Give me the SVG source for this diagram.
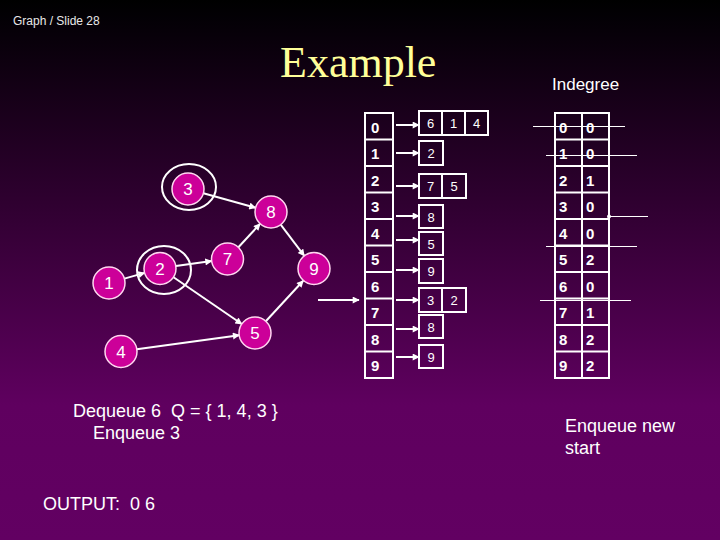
<svg xmlns="http://www.w3.org/2000/svg" width="720" height="540" viewBox="0 0 720 540">
<defs>
<linearGradient id="bg" x1="0" y1="0" x2="0" y2="1">
<stop offset="0" stop-color="#000000"/>
<stop offset="0.04" stop-color="#040006"/>
<stop offset="0.75" stop-color="#5f005f"/>
<stop offset="1" stop-color="#620062"/>
</linearGradient>
<marker id="ah" viewBox="0 0 10 10" refX="9" refY="5" markerWidth="8" markerHeight="7" markerUnits="userSpaceOnUse" orient="auto">
<path d="M0,0 L10,5 L0,10 Z" fill="#ffffff"/>
</marker>
<style>
.node circle{fill:#cc0099;stroke:#ffd6f0;stroke-width:1.5}
.node text{font-family:"Liberation Sans",Arial,sans-serif;font-size:17px;fill:#ffffff;text-anchor:middle}
.ring{fill:none;stroke:#ffffff;stroke-width:2}
.edge{stroke:#ffffff;stroke-width:2;fill:none;marker-end:url(#ah)}
.box{fill:none;stroke:#ffffff;stroke-width:2}
.idx{font-family:"Liberation Sans",Arial,sans-serif;font-size:15px;font-weight:bold;fill:#ffffff}
.cell{font-family:"Liberation Sans",Arial,sans-serif;font-size:13px;fill:#ffffff;text-anchor:middle}
.strike{stroke:#ffffff;stroke-width:1;shape-rendering:crispEdges}
.txt{font-family:"Liberation Sans",Arial,sans-serif;font-size:18px;fill:#ffffff;white-space:pre}
</style>
</defs>
<rect x="0" y="0" width="720" height="540" fill="url(#bg)"/>
<text x="13" y="25" font-family="Liberation Sans, Arial, sans-serif" font-size="12" fill="#e8e8e8">Graph / Slide 28</text>
<text x="280" y="77" font-family="Liberation Serif, Times New Roman, serif" font-size="44" fill="#ffff99">Example</text>
<text x="552" y="90" font-family="Liberation Sans, Arial, sans-serif" font-size="17" fill="#ffffff">Indegree</text>

<g id="connectors">
<line class="edge" x1="124.4" y1="278.6" x2="144.6" y2="272.9"/>
<line class="edge" x1="175.9" y1="265.9" x2="211.6" y2="261.1"/>
<line class="edge" x1="173.2" y1="277" x2="241.8" y2="324"/>
<line class="edge" x1="203.4" y1="193.3" x2="255.6" y2="207.7"/>
<line class="edge" x1="238.4" y1="247.3" x2="260.1" y2="223.7"/>
<line class="edge" x1="280.7" y1="224.7" x2="304.3" y2="255.8"/>
<line class="edge" x1="265.8" y1="321.2" x2="303.2" y2="280.7"/>
<line class="edge" x1="136.8" y1="349.3" x2="239.2" y2="335.2"/>
<line class="edge" x1="318" y1="300" x2="359" y2="300"/>
</g>

<ellipse class="ring" cx="189" cy="187" rx="27" ry="23"/>
<ellipse class="ring" cx="164" cy="270" rx="27" ry="24"/>

<g id="n1" class="node"><circle cx="109" cy="283" r="16"/><text x="109" y="289">1</text></g>
<g id="n2" class="node"><circle cx="160" cy="268.5" r="16"/><text x="160" y="274.5">2</text></g>
<g id="n3" class="node"><circle cx="188" cy="189" r="16"/><text x="188" y="195">3</text></g>
<g id="n4" class="node"><circle cx="121" cy="351.5" r="16"/><text x="121" y="357.5">4</text></g>
<g id="n5" class="node"><circle cx="255" cy="333" r="16"/><text x="255" y="339">5</text></g>
<g id="n7" class="node"><circle cx="227.5" cy="259" r="16"/><text x="227.5" y="265">7</text></g>
<g id="n8" class="node"><circle cx="271" cy="212" r="16"/><text x="271" y="218">8</text></g>
<g id="n9" class="node"><circle cx="314" cy="268.5" r="16"/><text x="314" y="274.5">9</text></g>

<g id="adjacency">
<rect class="box" x="365" y="113" width="28" height="265"/>
<path class="box" d="M365,139.5H393M365,166H393M365,192.5H393M365,219H393M365,245.5H393M365,272H393M365,298.5H393M365,325H393M365,351.5H393"/>
<text class="idx" x="371" y="132.5">0</text>
<text class="idx" x="371" y="159">1</text>
<text class="idx" x="371" y="185.5">2</text>
<text class="idx" x="371" y="212">3</text>
<text class="idx" x="371" y="238.5">4</text>
<text class="idx" x="371" y="265">5</text>
<text class="idx" x="371" y="291.5">6</text>
<text class="idx" x="371" y="318">7</text>
<text class="idx" x="371" y="344.5">8</text>
<text class="idx" x="371" y="371">9</text>
<g id="adjarrows">
<line class="edge" x1="396" y1="125" x2="419" y2="125"/>
<line class="edge" x1="396" y1="153" x2="419" y2="153"/>
<line class="edge" x1="396" y1="186" x2="419" y2="186"/>
<line class="edge" x1="396" y1="216" x2="419" y2="216"/>
<line class="edge" x1="396" y1="240" x2="419" y2="240"/>
<line class="edge" x1="396" y1="270" x2="419" y2="270"/>
<line class="edge" x1="396" y1="300" x2="419" y2="300"/>
<line class="edge" x1="396" y1="329" x2="419" y2="329"/>
<line class="edge" x1="396" y1="357" x2="419" y2="357"/>
</g>
<rect class="box" x="419" y="111" width="69" height="24"/>
<path class="box" d="M442,111V135M465,111V135"/>
<text class="cell" x="430.5" y="128">6</text><text class="cell" x="453.5" y="128">1</text><text class="cell" x="476.5" y="128">4</text>
<rect class="box" x="419" y="141" width="24" height="24"/>
<text class="cell" x="431" y="158">2</text>
<rect class="box" x="419" y="174" width="47" height="24"/>
<path class="box" d="M442,174V198"/>
<text class="cell" x="430.5" y="191">7</text><text class="cell" x="454" y="191">5</text>
<rect class="box" x="419" y="205" width="24" height="23"/>
<text class="cell" x="431" y="221.5">8</text>
<rect class="box" x="419" y="232" width="24" height="23"/>
<text class="cell" x="431" y="248.5">5</text>
<rect class="box" x="419" y="259" width="24" height="24"/>
<text class="cell" x="431" y="276">9</text>
<rect class="box" x="419" y="288" width="47" height="24"/>
<path class="box" d="M442,288V312"/>
<text class="cell" x="430.5" y="305">3</text><text class="cell" x="454" y="305">2</text>
<rect class="box" x="419" y="315" width="24" height="23"/>
<text class="cell" x="431" y="331.5">8</text>
<rect class="box" x="419" y="345" width="24" height="23"/>
<text class="cell" x="431" y="361.5">9</text>
</g>

<g id="indegree">
<rect class="box" x="555" y="113" width="54" height="265"/>
<path class="box" d="M582,113V378M555,139.5H609M555,166H609M555,192.5H609M555,219H609M555,245.5H609M555,272H609M555,298.5H609M555,325H609M555,351.5H609"/>
<text class="idx" x="559" y="132.5">0</text><text class="idx" x="586" y="132.5">0</text>
<text class="idx" x="559" y="159">1</text><text class="idx" x="586" y="159">0</text>
<text class="idx" x="559" y="185.5">2</text><text class="idx" x="586" y="185.5">1</text>
<text class="idx" x="559" y="212">3</text><text class="idx" x="586" y="212">0</text>
<text class="idx" x="559" y="238.5">4</text><text class="idx" x="586" y="238.5">0</text>
<text class="idx" x="559" y="265">5</text><text class="idx" x="586" y="265">2</text>
<text class="idx" x="559" y="291.5">6</text><text class="idx" x="586" y="291.5">0</text>
<text class="idx" x="559" y="318">7</text><text class="idx" x="586" y="318">1</text>
<text class="idx" x="559" y="344.5">8</text><text class="idx" x="586" y="344.5">2</text>
<text class="idx" x="559" y="371">9</text><text class="idx" x="586" y="371">2</text>
<line class="strike" x1="533" y1="126.5" x2="625" y2="126.5"/>
<line class="strike" x1="546" y1="155.5" x2="637" y2="155.5"/>
<line class="strike" x1="609" y1="216.5" x2="648" y2="216.5"/>
<circle cx="609" cy="216.5" r="2" fill="#ffffff"/>
<line class="strike" x1="546" y1="246.5" x2="637" y2="246.5"/>
<line class="strike" x1="540" y1="300.5" x2="631" y2="300.5"/>
</g>

<text class="txt" x="73" y="417" xml:space="preserve">Dequeue 6  Q = { 1, 4, 3 }</text>
<text class="txt" x="93" y="439">Enqueue 3</text>
<text class="txt" x="43" y="510" xml:space="preserve">OUTPUT:  0 6</text>
<text class="txt" x="565" y="432">Enqueue new</text>
<text class="txt" x="565" y="454">start</text>
</svg>
